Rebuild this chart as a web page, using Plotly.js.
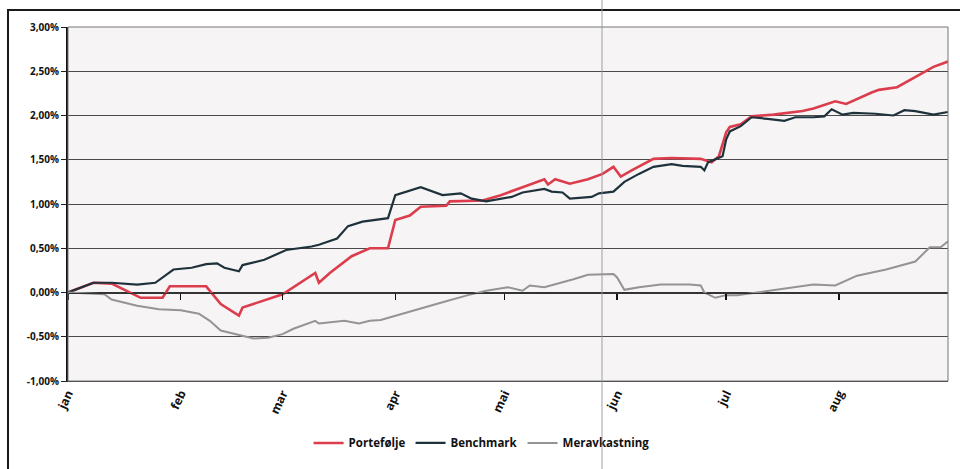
<!DOCTYPE html>
<html>
<head>
<meta charset="utf-8">
<script src="https://cdn.plot.ly/plotly-3.0.1.min.js"></script>
<style>
  html, body { margin: 0; padding: 0; background: #fff; overflow: hidden; }
  #frame { position: absolute; left: 7px; top: 9px; width: 1000px; height: 520px; border: 2px solid #1a1a1a; }
  #scanline { position: absolute; left: 601px; top: 0; width: 2px; height: 469px; background: rgba(150,150,150,0.45); z-index: 5; }
  #chart { position: absolute; left: 0; top: 0; width: 960px; height: 469px; }
</style>
</head>
<body>
<div id="frame"></div>
<div id="chart"></div>
<div id="scanline"></div>
<script>
// ---- data (values in %) ----
const seriesNames = ['Portefølje', 'Benchmark', 'Meravkastning'];

const portDates = ['2011-01-01','2011-01-08','2011-01-13','2011-01-21','2011-01-27','2011-01-29','2011-02-08','2011-02-12',
  '2011-02-17','2011-02-18','2011-03-01','2011-03-10','2011-03-11','2011-03-14','2011-03-20','2011-03-25','2011-03-30',
  '2011-04-01','2011-04-05','2011-04-08','2011-04-15','2011-04-16','2011-04-25','2011-04-30','2011-05-06','2011-05-12',
  '2011-05-13','2011-05-15','2011-05-19','2011-05-24','2011-05-28','2011-05-31','2011-06-02','2011-06-05','2011-06-11',
  '2011-06-16','2011-06-24','2011-06-27','2011-06-29','2011-07-01','2011-07-02','2011-07-05','2011-07-08','2011-07-14',
  '2011-07-22','2011-07-25','2011-07-31','2011-08-03','2011-08-10','2011-08-12','2011-08-17','2011-08-24','2011-08-27','2011-08-31'];
const portValues = [0, 0.11, 0.10, -0.06, -0.06, 0.07, 0.07, -0.13,
  -0.26, -0.17, -0.02, 0.22, 0.11, 0.22, 0.41, 0.50, 0.50,
  0.82, 0.87, 0.97, 0.98, 1.03, 1.04, 1.10, 1.19, 1.28,
  1.22, 1.28, 1.23, 1.28, 1.34, 1.42, 1.31, 1.38, 1.51,
  1.52, 1.51, 1.47, 1.54, 1.81, 1.87, 1.90, 1.99, 2.01,
  2.05, 2.08, 2.16, 2.13, 2.26, 2.29, 2.32, 2.48, 2.55, 2.61];

const benchDates = ['2011-01-01','2011-01-08','2011-01-13','2011-01-20','2011-01-25','2011-01-28','2011-01-30','2011-02-04',
  '2011-02-08','2011-02-11','2011-02-13','2011-02-17','2011-02-18','2011-02-24','2011-03-02','2011-03-09','2011-03-11',
  '2011-03-16','2011-03-19','2011-03-23','2011-03-30','2011-04-01','2011-04-05','2011-04-08','2011-04-14','2011-04-19',
  '2011-04-22','2011-04-26','2011-05-03','2011-05-06','2011-05-12','2011-05-14','2011-05-17','2011-05-19','2011-05-25',
  '2011-05-27','2011-05-31','2011-06-03','2011-06-07','2011-06-11','2011-06-16','2011-06-19','2011-06-24','2011-06-25',
  '2011-06-26','2011-06-30','2011-07-01','2011-07-02','2011-07-05','2011-07-08','2011-07-13','2011-07-17','2011-07-20',
  '2011-07-25','2011-07-28','2011-07-30','2011-08-02','2011-08-05','2011-08-11','2011-08-16','2011-08-19','2011-08-22',
  '2011-08-27','2011-08-31'];
const benchValues = [0, 0.11, 0.11, 0.09, 0.11, 0.20, 0.26, 0.28,
  0.32, 0.33, 0.28, 0.24, 0.31, 0.37, 0.48, 0.52, 0.54,
  0.61, 0.75, 0.80, 0.84, 1.10, 1.15, 1.19, 1.10, 1.12,
  1.06, 1.03, 1.08, 1.13, 1.17, 1.14, 1.13, 1.06, 1.08,
  1.12, 1.14, 1.25, 1.34, 1.42, 1.45, 1.43, 1.42, 1.38,
  1.47, 1.54, 1.73, 1.82, 1.88, 1.98, 1.96, 1.94, 1.98,
  1.98, 1.99, 2.07, 2.01, 2.03, 2.02, 2.00, 2.06, 2.05,
  2.01, 2.04];

const meravDates = ['2011-01-01','2011-01-11','2011-01-13','2011-01-20','2011-01-26','2011-02-01','2011-02-06','2011-02-09',
  '2011-02-12','2011-02-17','2011-02-21','2011-02-25','2011-03-01','2011-03-04','2011-03-10','2011-03-11','2011-03-18',
  '2011-03-22','2011-03-25','2011-03-28','2011-04-05','2011-04-14','2011-04-21','2011-04-26','2011-05-02','2011-05-06',
  '2011-05-08','2011-05-12','2011-05-20','2011-05-24','2011-05-31','2011-06-01','2011-06-03','2011-06-07','2011-06-13',
  '2011-06-21','2011-06-24','2011-06-25','2011-06-28','2011-07-01','2011-07-04','2011-07-09','2011-07-15','2011-07-25',
  '2011-07-31','2011-08-06','2011-08-14','2011-08-22','2011-08-26','2011-08-29','2011-08-31'];
const meravValues = [0, -0.02, -0.08, -0.15, -0.19, -0.20, -0.24, -0.32,
  -0.43, -0.48, -0.52, -0.51, -0.47, -0.41, -0.32, -0.35, -0.32,
  -0.35, -0.32, -0.31, -0.22, -0.11, -0.03, 0.02, 0.06, 0.02,
  0.08, 0.06, 0.15, 0.20, 0.21, 0.17, 0.03, 0.06, 0.09,
  0.09, 0.08, 0.00, -0.06, -0.03, -0.03, 0.00, 0.03, 0.09,
  0.08, 0.19, 0.26, 0.35, 0.51, 0.51, 0.58];

const monthTicks = ['2011-01-01','2011-02-01','2011-03-01','2011-04-01','2011-05-01','2011-06-01','2011-07-01','2011-08-01'];
const monthLabels = ['jan','feb','mar','apr','mai','jun','jul','aug'];
const yTicks = [-1, -0.5, 0, 0.5, 1, 1.5, 2, 2.5, 3];
const yTickLabels = ['-1,00%','-0,50%','0,00%','0,50%','1,00%','1,50%','2,00%','2,50%','3,00%'];

const xRange = ['2011-01-01', '2011-08-31'];
const fontFam = '"Open Sans", "DejaVu Sans", sans-serif';

const traces = [
  {x: portDates, y: portValues, name: seriesNames[0], type: 'scatter', mode: 'lines',
   line: {color: '#dc3d4c', width: 2.6}},
  {x: benchDates, y: benchValues, name: seriesNames[1], type: 'scatter', mode: 'lines',
   line: {color: '#1e323c', width: 2.2}},
  {x: meravDates, y: meravValues, name: seriesNames[2], type: 'scatter', mode: 'lines', xaxis: 'x2',
   line: {color: '#949494', width: 2}}
];

const layout = {
  width: 960, height: 469,
  margin: {l: 68, r: 12, t: 27, b: 84},
  paper_bgcolor: 'rgba(0,0,0,0)',
  plot_bgcolor: '#f6f4f4',
  showlegend: true,
  legend: {orientation: 'h', x: 0.47, xanchor: 'center', y: -0.175, yanchor: 'middle',
           font: {family: fontFam, size: 11.5, color: '#111', weight: 700},
           bgcolor: 'rgba(0,0,0,0)', itemwidth: 30, tracegroupgap: 0},
  xaxis: {type: 'date', range: xRange, tickvals: monthTicks, ticktext: monthLabels,
          tickangle: -65, tickfont: {family: fontFam, size: 12, color: '#111', weight: 700},
          showgrid: false, zeroline: false,
          showline: true, linecolor: '#333', linewidth: 1, mirror: false, ticks: '', fixedrange: true},
  xaxis2: {type: 'date', range: xRange, overlaying: 'x', anchor: 'free', position: 0.25, side: 'bottom',
           tickmode: 'array', tickvals: monthTicks, ticktext: ['', '', '', '', '', '', '', ''],
           showticklabels: true, ticks: 'outside', ticklen: 6, tickwidth: 1.5, tickcolor: '#111',
           showgrid: false, zeroline: false, showline: true, linecolor: '#333', linewidth: 1, fixedrange: true},
  yaxis: {range: [-1, 3], tickvals: yTicks, ticktext: yTickLabels,
          tickfont: {family: fontFam, size: 10, color: '#111', weight: 700},
          showgrid: true, gridcolor: '#4a4a4a', gridwidth: 1, zeroline: true, zerolinecolor: '#333', zerolinewidth: 1,
          showline: true, linecolor: '#111', linewidth: 2, ticks: 'outside', ticklen: 5, tickcolor: '#222', fixedrange: true},
  shapes: [
    {type: 'rect', xref: 'paper', yref: 'paper', x0: 0, x1: 1, y0: 0, y1: 1,
     line: {color: '#777', width: 1}, fillcolor: 'rgba(0,0,0,0)', layer: 'above'}
  ]
};

Plotly.newPlot('chart', traces, layout, {staticPlot: true, displayModeBar: false});
</script>
</body>
</html>
